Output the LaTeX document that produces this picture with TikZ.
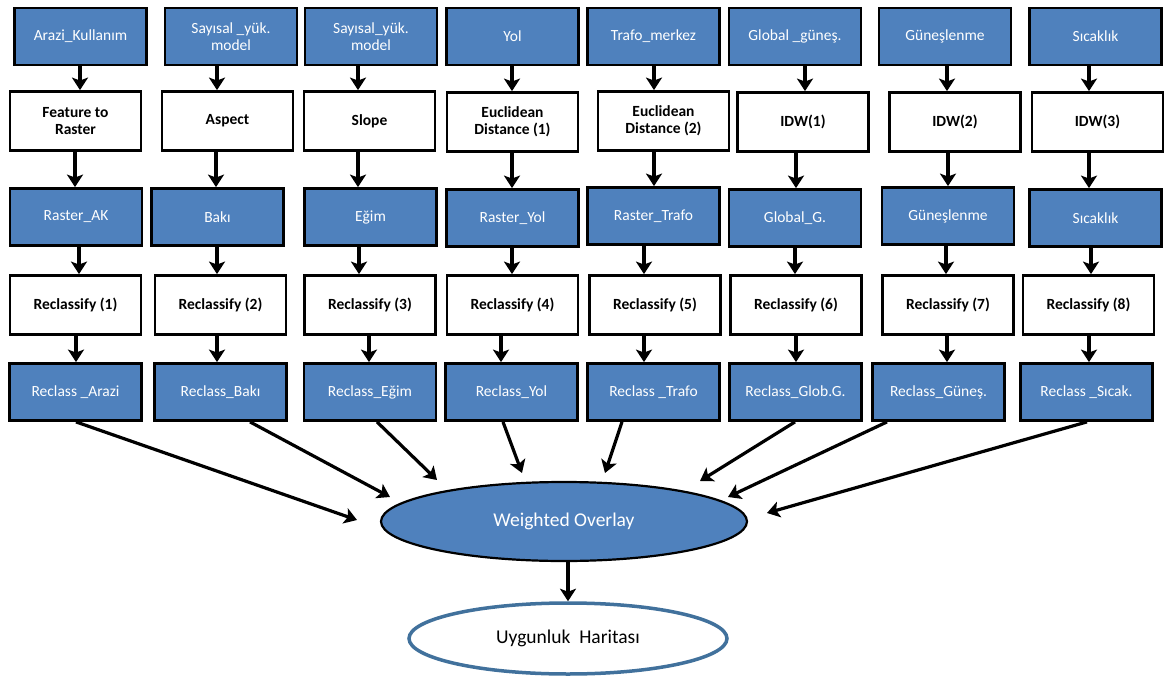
\documentclass[tikz,border=0pt]{standalone}
\usepackage{fontspec}
\setmainfont{Carlito}
\usepackage{tikz}
\usetikzlibrary{arrows.meta,shapes.geometric}
\definecolor{boxblue}{HTML}{4F81BD}
\definecolor{rimblue}{HTML}{41719C}
\newcommand{\boxfont}{\fontsize{15.5}{17}\selectfont}
\newcommand{\ovalfont}{\fontsize{19.5}{22}\selectfont}
\tikzset{
  >={Stealth[length=12.5pt,width=16pt,inset=3pt]},
  rast/.style  ={rectangle, draw, line width=2.8pt, fill=boxblue, text=white,
                 minimum width=132pt, minimum height=57pt, inner sep=2pt,
                 font=\boxfont, align=center},
  proc/.style  ={rectangle, draw, line width=2.8pt, fill=white,
                 minimum width=131pt, minimum height=59pt, inner sep=2pt,
                 font=\boxfont\bfseries, align=center},
  wov/.style   ={ellipse, draw, line width=2.2pt, fill=boxblue, text=white,
                 minimum width=366pt, minimum height=79pt, inner sep=0pt,
                 font=\ovalfont},
  outmap/.style={ellipse, draw=rimblue, line width=3.5pt, fill=white,
                 minimum width=318pt, minimum height=71pt, inner sep=0pt,
                 font=\ovalfont},
  con/.style   ={->, draw, line width=3.2pt},
}

\begin{document}
\begin{tikzpicture}[x=1pt,y=-1pt]
\useasboundingbox (0,0) rectangle (1165,677);

% --- input layers ---------------------------------------------------
\node[rast] (src1) at (80.5,36.5)   {Arazi\_Kullanım};
\node[rast] (src2) at (231,36.5)    {Sayısal \_yük.\\model};
\node[rast] (src3) at (371,36.5)    {Sayısal\_yük.\\model};
\node[rast] (src4) at (512.5,36.5)  {Yol};
\node[rast] (src5) at (653.5,36.5)  {Trafo\_merkez};
\node[rast] (src6) at (795,36.5)    {Global \_güneş.};
\node[rast] (src7) at (945,36.5)    {Güneşlenme};
\node[rast] (src8) at (1095.5,36.5) {Sıcaklık};

% --- first tools ----------------------------------------------------
\node[proc] (op1) at (75.5,121)   {Feature to\\Raster};
\node[proc] (op2) at (227.5,121)  {Aspect};
\node[proc] (op3) at (369.5,121)  {Slope};
\node[proc] (op4) at (512.5,122)  {Euclidean\\Distance (1)};
\node[proc] (op5) at (663.5,121)  {Euclidean\\Distance (2)};
\node[proc] (op6) at (803,122)    {IDW(1)};
\node[proc] (op7) at (955,122)    {IDW(2)};
\node[proc] (op8) at (1097.5,122) {IDW(3)};

% --- rasters --------------------------------------------------------
\node[rast] (ras1) at (76,217)     {Raster\_AK};
\node[rast] (ras2) at (217.5,217)  {Bakı};
\node[rast] (ras3) at (370.5,217)  {Eğim};
\node[rast] (ras4) at (512.5,218)  {Raster\_Yol};
\node[rast] (ras5) at (653.5,216)  {Raster\_Trafo};
\node[rast] (ras6) at (795,218)    {Global\_G.};
\node[rast] (ras7) at (948,216)    {Güneşlenme};
\node[rast] (ras8) at (1095.5,218) {Sıcaklık};

% --- reclassify -----------------------------------------------------
\node[proc] (rcl1) at (75.5,305)  {Reclassify (1)};
\node[proc] (rcl2) at (220.5,305) {Reclassify (2)};
\node[proc] (rcl3) at (370,305)   {Reclassify (3)};
\node[proc] (rcl4) at (512.5,305) {Reclassify (4)};
\node[proc] (rcl5) at (655,305)   {Reclassify (5)};
\node[proc] (rcl6) at (796,305)   {Reclassify (6)};
\node[proc] (rcl7) at (948,305)   {Reclassify (7)};
\node[proc] (rcl8) at (1088.5,305) {Reclassify (8)};

% --- reclassified layers --------------------------------------------
\node[rast] (out1) at (75.5,392)   {Reclass \_Arazi};
\node[rast] (out2) at (220.5,392)  {Reclass\_Bakı};
\node[rast] (out3) at (370,392)    {Reclass\_Eğim};
\node[rast] (out4) at (511.5,392)  {Reclass\_Yol};
\node[rast] (out5) at (653.5,392)  {Reclass \_Trafo};
\node[rast] (out6) at (795.5,392)  {Reclass\_Glob.G.};
\node[rast] (out7) at (938.5,392)  {Reclass\_Güneş.};
\node[rast] (out8) at (1086.5,392) {Reclass \_Sıcak.};

% --- overlay and result ---------------------------------------------
\node[wov]    (wo)  at (564,521.5) {Weighted Overlay};
\node[outmap] (map) at (568,638.5) {Uygunluk~ Haritası};

\coordinate (in1) at (357,520);
\coordinate (in2) at (390,497);
\coordinate (in3) at (437,480);
\coordinate (in4) at (522,473);
\coordinate (in5) at (605,473);
\coordinate (in6) at (700,481);
\coordinate (in7) at (728,497);
\coordinate (in8) at (767,513);

% --- vertical flow --------------------------------------------------
\draw[con] (80,0 |- src1.south)   -- (80,0 |- op1.north);
\draw[con] (217,0 |- src2.south)  -- (217,0 |- op2.north);
\draw[con] (358,0 |- src3.south)  -- (358,0 |- op3.north);
\draw[con] (512,0 |- src4.south)  -- (512,0 |- op4.north);
\draw[con] (654,0 |- src5.south)  -- (654,0 |- op5.north);
\draw[con] (805,0 |- src6.south)  -- (805,0 |- op6.north);
\draw[con] (947,0 |- src7.south)  -- (947,0 |- op7.north);
\draw[con] (1089,0 |- src8.south) -- (1089,0 |- op8.north);

\draw[con] (75,0 |- op1.south)   -- (75,0 |- ras1.north);
\draw[con] (216,0 |- op2.south)  -- (216,0 |- ras2.north);
\draw[con] (358,0 |- op3.south)  -- (358,0 |- ras3.north);
\draw[con] (512,0 |- op4.south)  -- (512,0 |- ras4.north);
\draw[con] (654,0 |- op5.south)  -- (654,0 |- ras5.north);
\draw[con] (796,0 |- op6.south)  -- (796,0 |- ras6.north);
\draw[con] (948,0 |- op7.south)  -- (948,0 |- ras7.north);
\draw[con] (1089,0 |- op8.south) -- (1089,0 |- ras8.north);

\draw[con] (79,0 |- ras1.south)   -- (79,0 |- rcl1.north);
\draw[con] (217,0 |- ras2.south)  -- (217,0 |- rcl2.north);
\draw[con] (359,0 |- ras3.south)  -- (359,0 |- rcl3.north);
\draw[con] (512,0 |- ras4.south)  -- (512,0 |- rcl4.north);
\draw[con] (644,0 |- ras5.south)  -- (644,0 |- rcl5.north);
\draw[con] (795,0 |- ras6.south)  -- (795,0 |- rcl6.north);
\draw[con] (946,0 |- ras7.south)  -- (946,0 |- rcl7.north);
\draw[con] (1091,0 |- ras8.south) -- (1091,0 |- rcl8.north);

\draw[con] (76,0 |- rcl1.south)   -- (76,0 |- out1.north);
\draw[con] (217,0 |- rcl2.south)  -- (217,0 |- out2.north);
\draw[con] (369,0 |- rcl3.south)  -- (369,0 |- out3.north);
\draw[con] (501,0 |- rcl4.south)  -- (501,0 |- out4.north);
\draw[con] (644,0 |- rcl5.south)  -- (644,0 |- out5.north);
\draw[con] (796,0 |- rcl6.south)  -- (796,0 |- out6.north);
\draw[con] (947,0 |- rcl7.south)  -- (947,0 |- out7.north);
\draw[con] (1089,0 |- rcl8.south) -- (1089,0 |- out8.north);

% --- into the overlay -----------------------------------------------
\draw[con] (76,0 |- out1.south)   -- (in1);
\draw[con] (250,0 |- out2.south)  -- (in2);
\draw[con] (377,0 |- out3.south)  -- (in3);
\draw[con] (503,0 |- out4.south)  -- (in4);
\draw[con] (622,0 |- out5.south)  -- (in5);
\draw[con] (795,0 |- out6.south)  -- (in6);
\draw[con] (887,0 |- out7.south)  -- (in7);
\draw[con] (1087,0 |- out8.south) -- (in8);
\draw[con] (568,0 |- wo.south) -- (568,0 |- map.north);
\end{tikzpicture}
\end{document}
